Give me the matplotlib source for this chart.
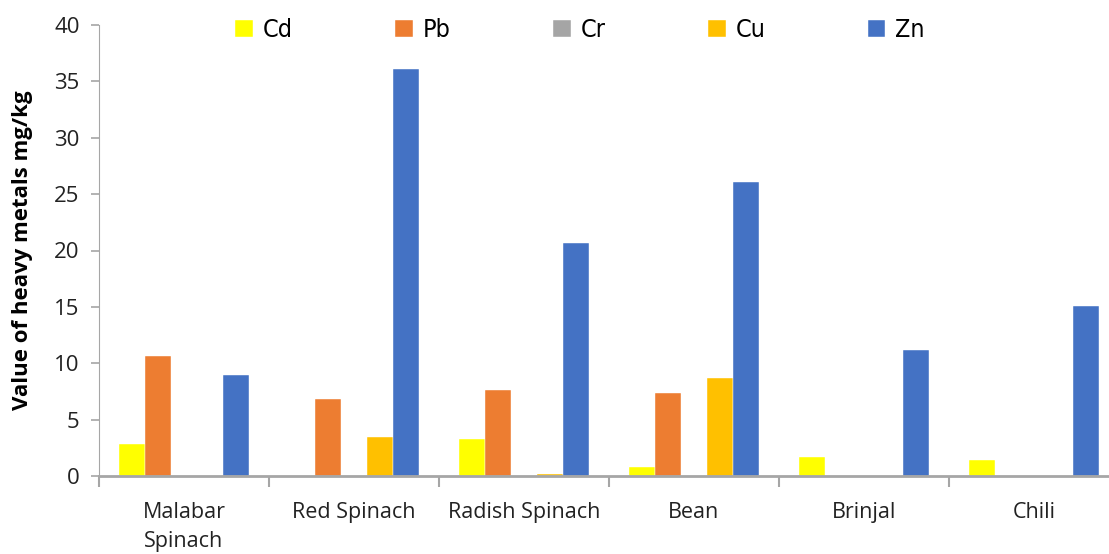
import matplotlib.pyplot as plt
import numpy as np

plt.rcParams['font.family'] = ['Open Sans', 'DejaVu Sans']

categories = ['Malabar\nSpinach', 'Red Spinach', 'Radish Spinach', 'Bean', 'Brinjal', 'Chili']
metals = ['Cd', 'Pb', 'Cr', 'Cu', 'Zn']
cd = [2.8, 0.0, 3.25, 0.77, 1.66, 1.4]
pb = [10.6, 6.8, 7.6, 7.4, 0.0, 0.0]
cr = [0.0, 0.0, 0.0, 0.0, 0.0, 0.0]
cu = [0.0, 3.43, 0.15, 8.65, 0.0, 0.0]
zn = [9.0, 36.1, 20.7, 26.1, 11.15, 15.1]
series = [cd, pb, cr, cu, zn]
colors = ['#FFFF00', '#ED7D31', '#A5A5A5', '#FFC000', '#4472C4']

fig = plt.figure(figsize=(11.09, 5.54), dpi=100)
ax = fig.add_axes([99/1109, 78/554, 1020/1109, 451/554])

x = np.arange(len(categories)) + 0.5
w = 0.153
for i, (vals, c) in enumerate(zip(series, colors)):
    ax.bar(x + (i - 2) * w, vals, w, color=c, label=metals[i],
           edgecolor='white', linewidth=0.3)

ax.set_xlim(0, len(categories))
ax.set_ylim(0, 40)
ax.set_yticks(range(0, 41, 5))
ax.set_xticks(range(len(categories) + 1))
ax.set_xticklabels([])
ax.set_xticks(x, minor=True)
ax.set_xticklabels(categories, minor=True, fontsize=15.5, color='#222222',
                   linespacing=1.45, va='top')
ax.tick_params(axis='x', which='minor', length=0, pad=19)
ax.tick_params(axis='x', which='major', length=8, color='#A6A6A6', width=1.5)
ax.tick_params(axis='y', length=6, color='#A6A6A6', width=1.2, labelsize=16,
               labelcolor='#222222', pad=8)

for s in ['top', 'right']:
    ax.spines[s].set_visible(False)
ax.spines['left'].set_color('#A6A6A6')
ax.spines['bottom'].set_color('#A6A6A6')
ax.spines['bottom'].set_linewidth(2)

ax.set_ylabel('Value of heavy metals mg/kg', fontsize=16, fontweight='bold', labelpad=15)

ax.legend(loc='center', bbox_to_anchor=(580/1109, 1 - 30/554), bbox_transform=fig.transFigure,
          ncol=5, frameon=False, handlelength=0.7, handleheight=0.7,
          handletextpad=0.4, columnspacing=4.1,
          prop={'family': ['DejaVu Sans'], 'stretch': 'condensed', 'size': 18})

plt.savefig('out.png', dpi=100)
